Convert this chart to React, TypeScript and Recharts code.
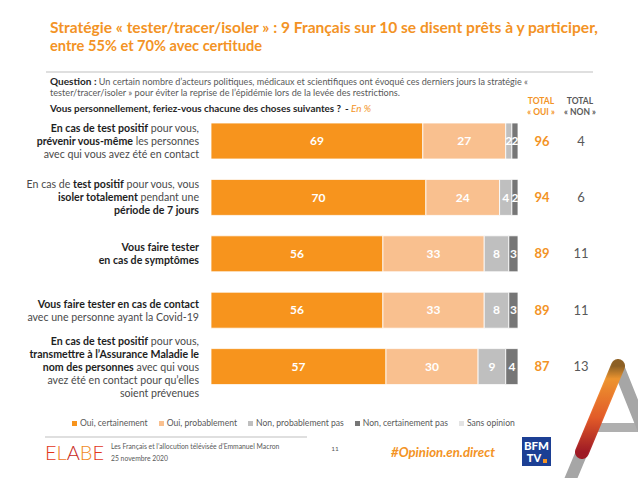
import { BarChart, Bar, XAxis, YAxis, LabelList, Legend } from 'recharts'

const categories = ['prevenir', 'isoler', 'testerSymptomes', 'testerContact', 'transmettre']
const ouiCertainement = [69, 70, 56, 56, 57]
const ouiProbablement = [27, 24, 33, 33, 30]
const nonProbablementPas = [2, 4, 8, 8, 9]
const nonCertainementPas = [2, 2, 3, 3, 4]
const sansOpinion = [0, 0, 0, 0, 0]
const totalOui = [96, 94, 89, 89, 87]
const totalNon = [4, 6, 11, 11, 13]

// each line is a list of [text, bold]
type Segment = [string, boolean]
const categoryLabels: Segment[][][] = [
  [
    [['En cas de test positif', true], [' pour vous,', false]],
    [['prévenir vous-même', true], [' les personnes', false]],
    [['avec qui vous avez été en contact', false]],
  ],
  [
    [['En cas de ', false], ['test positif', true], [' pour vous, vous', false]],
    [['isoler totalement', true], [' pendant une', false]],
    [['période de 7 jours', true]],
  ],
  [
    [['Vous faire tester', true]],
    [['en cas de symptômes', true]],
  ],
  [
    [['Vous faire tester en cas de contact', true]],
    [['avec une personne ayant la Covid-19', false]],
  ],
  [
    [['En cas de test positif', true], [' pour vous,', false]],
    [['transmettre à l’Assurance Maladie le', true]],
    [['nom des personnes', true], [' avec qui vous', false]],
    [['avez été en contact pour qu’elles', false]],
    [['soient prévenues', false]],
  ],
]

const seriesKeys = ['ouiCertainement', 'ouiProbablement', 'nonProbablementPas', 'nonCertainementPas', 'sansOpinion']
const seriesNames = ['Oui, certainement', 'Oui, probablement', 'Non, probablement pas', 'Non, certainement pas', 'Sans opinion']
const seriesColors = ['#F7941D', '#F9C08F', '#BFBFBF', '#767676', '#E3E3E3']

const data = categories.map((id, i) => ({
  id,
  ouiCertainement: ouiCertainement[i],
  ouiProbablement: ouiProbablement[i],
  nonProbablementPas: nonProbablementPas[i],
  nonCertainementPas: nonCertainementPas[i],
  sansOpinion: sansOpinion[i],
  totalOui: totalOui[i],
  totalNon: totalNon[i],
}))

const FONT = 'Lato, "Open Sans", sans-serif'
const ORANGE = '#F39325'

const CategoryTick = (props: any) => {
  const { x, y, payload } = props
  const idx = categories.indexOf(payload.value)
  const lines = categoryLabels[idx] || []
  const lh = 13
  const y0 = y - ((lines.length - 1) * lh) / 2
  return (
    <g>
      {lines.map((segs, li) => (
        <text key={li} x={x} y={y0 + li * lh} dy="0.35em" textAnchor="end" fontSize={10.6} style={{ whiteSpace: 'pre' }}>
          {segs.map(([t, b], si) => (
            <tspan key={si} fontWeight={b ? 700 : 400} fill={b ? '#1e1e1e' : '#4a4a4a'}>{t}</tspan>
          ))}
        </text>
      ))}
    </g>
  )
}

const totalLabel = (cx: number, color: string, weight: number) => (props: any) => {
  const { y, height, value } = props
  return (
    <text x={cx} y={Number(y) + Number(height) / 2} dy="0.36em" textAnchor="middle" fontSize={13} fontWeight={weight} fill={color}>
      {value}
    </text>
  )
}

const LegendContent = () => (
  <div style={{ display: 'flex', gap: 11, paddingLeft: 72, fontSize: 8.6, color: '#595959', fontFamily: FONT }}>
    {seriesNames.map((n, i) => (
      <div key={n} style={{ display: 'flex', alignItems: 'center', gap: 3 }}>
        <span style={{ width: 5, height: 5, background: seriesColors[i], display: 'inline-block' }} />
        <span>{n}</span>
      </div>
    ))}
  </div>
)

export default function App() {
  return (
    <div style={{ position: 'absolute', left: 0, top: 0, width: 638, height: 478, background: '#fff', overflow: 'hidden', fontFamily: FONT }}>
      <svg width={638} height={478} style={{ position: 'absolute', left: 0, top: 0 }} fontFamily={FONT}>
        <text x={50} y={27} dy="0.35em" fontSize={16} fontWeight={700} fill={ORANGE} textLength={548} lengthAdjust="spacingAndGlyphs">
          Stratégie « tester/tracer/isoler » : 9 Français sur 10 se disent prêts à y participer,
        </text>
        <text x={50} y={45} dy="0.35em" fontSize={16} fontWeight={700} fill={ORANGE} textLength={212} lengthAdjust="spacingAndGlyphs">
          entre 55% et 70% avec certitude
        </text>
        <line x1={46} x2={593} y1={72} y2={72} stroke="#BFBFBF" strokeWidth={1} />
        <text x={50} y={82} dy="0.35em" fontSize={9} fill="#595959" textLength={478} lengthAdjust="spacingAndGlyphs" style={{ whiteSpace: 'pre' }}>
          <tspan fontWeight={700} fill="#262626" fontSize={10}>Question :</tspan>
          <tspan> Un certain nombre d’acteurs politiques, médicaux et scientifiques ont évoqué ces derniers jours la stratégie «</tspan>
        </text>
        <text x={50} y={93} dy="0.35em" fontSize={9} fill="#595959" textLength={350} lengthAdjust="spacingAndGlyphs">
          tester/tracer/isoler » pour éviter la reprise de l’épidémie lors de la levée des restrictions.
        </text>
        <text x={50} y={109} dy="0.35em" fontSize={9.9} fontWeight={700} fill="#262626">
          Vous personnellement, feriez-vous chacune des choses suivantes ?
        </text>
        <text x={345} y={109} dy="0.35em" fontSize={9.9} fill={ORANGE} style={{ whiteSpace: 'pre' }}>
          <tspan fill="#262626" fontWeight={700}>- </tspan>
          <tspan fontStyle="italic">En %</tspan>
        </text>
        <text x={541} y={101} dy="0.35em" fontSize={8.5} fontWeight={700} fill={ORANGE} textAnchor="middle">TOTAL</text>
        <text x={541} y={112} dy="0.35em" fontSize={8.5} fontWeight={700} fill={ORANGE} textAnchor="middle">« OUI »</text>
        <text x={580} y={101} dy="0.35em" fontSize={8.5} fontWeight={700} fill="#595959" textAnchor="middle">TOTAL</text>
        <text x={580} y={112} dy="0.35em" fontSize={8.5} fontWeight={700} fill="#595959" textAnchor="middle">« NON »</text>

        {/* footer */}
        <line x1={45} x2={307} y1={437} y2={437} stroke="#BFBFBF" strokeWidth={1} />
        <text x={45} y={453} dy="0.36em" fontSize={20} fontWeight={300}>
          <tspan fill="#E2361B">E</tspan>
          <tspan fill="#F0781E">L</tspan>
          <tspan fill="#C8281C">A</tspan>
          <tspan fill="#F08A1E">B</tspan>
          <tspan fill="#E2361B">E</tspan>
        </text>
        <text x={111} y={447} dy="0.35em" fontSize={6.8} fill="#595959">Les Français et l’allocution télévisée d’Emmanuel Macron</text>
        <text x={111} y={459} dy="0.35em" fontSize={6.8} fill="#595959">25 novembre 2020</text>
        <text x={335} y={449} dy="0.35em" fontSize={6.5} fill="#595959" textAnchor="middle">11</text>
        <text x={391} y={452} dy="0.35em" fontSize={14} fontWeight={700} fontStyle="italic" fill={ORANGE} textLength={104} lengthAdjust="spacingAndGlyphs">#Opinion.en.direct</text>
        <rect x={522} y={437} width={29} height={29} fill="#1C3F94" />
        <text x={536.5} y={446} dy="0.35em" fontSize={11} fontWeight={900} fill="#fff" textAnchor="middle" textLength={25} lengthAdjust="spacingAndGlyphs">BFM</text>
        <text x={534} y={458} dy="0.35em" fontSize={11} fontWeight={900} fill="#fff" textAnchor="middle">TV</text>
        <rect x={543} y={459} width={4} height={4} fill="#F39325" />

        {/* decorative A */}
        <defs>
          <linearGradient id="aGrad" x1="0" y1="0" x2="0" y2="1">
            <stop offset="0" stopColor="#8A5A1A" />
            <stop offset="0.15" stopColor="#F39325" />
            <stop offset="0.6" stopColor="#E8551E" />
            <stop offset="1" stopColor="#9E0F1B" />
          </linearGradient>
        </defs>
        <line x1={618} y1={366} x2={566} y2={490} stroke="#A6A6A6" strokeWidth={12} strokeLinecap="round" />
        <line x1={618} y1={366} x2={646} y2={436} stroke="#A6A6A6" strokeWidth={12} strokeLinecap="round" />
        <rect x={587} y={423} width={60} height={9} fill="#A6A6A6" opacity={0.9} />
        <line x1={618} y1={366} x2={582} y2={452} stroke="url(#aGrad)" strokeWidth={14} strokeLinecap="round" opacity={0.92} />
      </svg>

      <div style={{ position: 'absolute', left: 0, top: 0 }}>
        <BarChart
          width={638}
          height={478}
          layout="vertical"
          data={data}
          margin={{ top: 113, right: 120, bottom: 73, left: 0 }}
          barSize={36}
          style={{ fontFamily: FONT }}
        >
          <XAxis type="number" domain={[0, 100]} hide />
          <YAxis type="category" dataKey="id" width={211} axisLine={false} tickLine={false} tick={<CategoryTick />} tickMargin={6} />
          <Legend content={<LegendContent />} wrapperStyle={{ top: 418, left: 0, width: 638 }} />
          {seriesKeys.map((key, i) => (
            <Bar key={key} dataKey={key} name={seriesNames[i]} stackId="a" fill={seriesColors[i]} stroke="#fff" strokeWidth={0.8} isAnimationActive={false}>
              <LabelList dataKey={key} position="center" fill="#fff" fontSize={12} fontWeight={700} formatter={(v: any) => (v ? v : '')} />
              {i === 0 && <LabelList dataKey="totalOui" content={totalLabel(542, ORANGE, 700)} />}
              {i === 0 && <LabelList dataKey="totalNon" content={totalLabel(581, '#595959', 400)} />}
            </Bar>
          ))}
        </BarChart>
      </div>
    </div>
  )
}
